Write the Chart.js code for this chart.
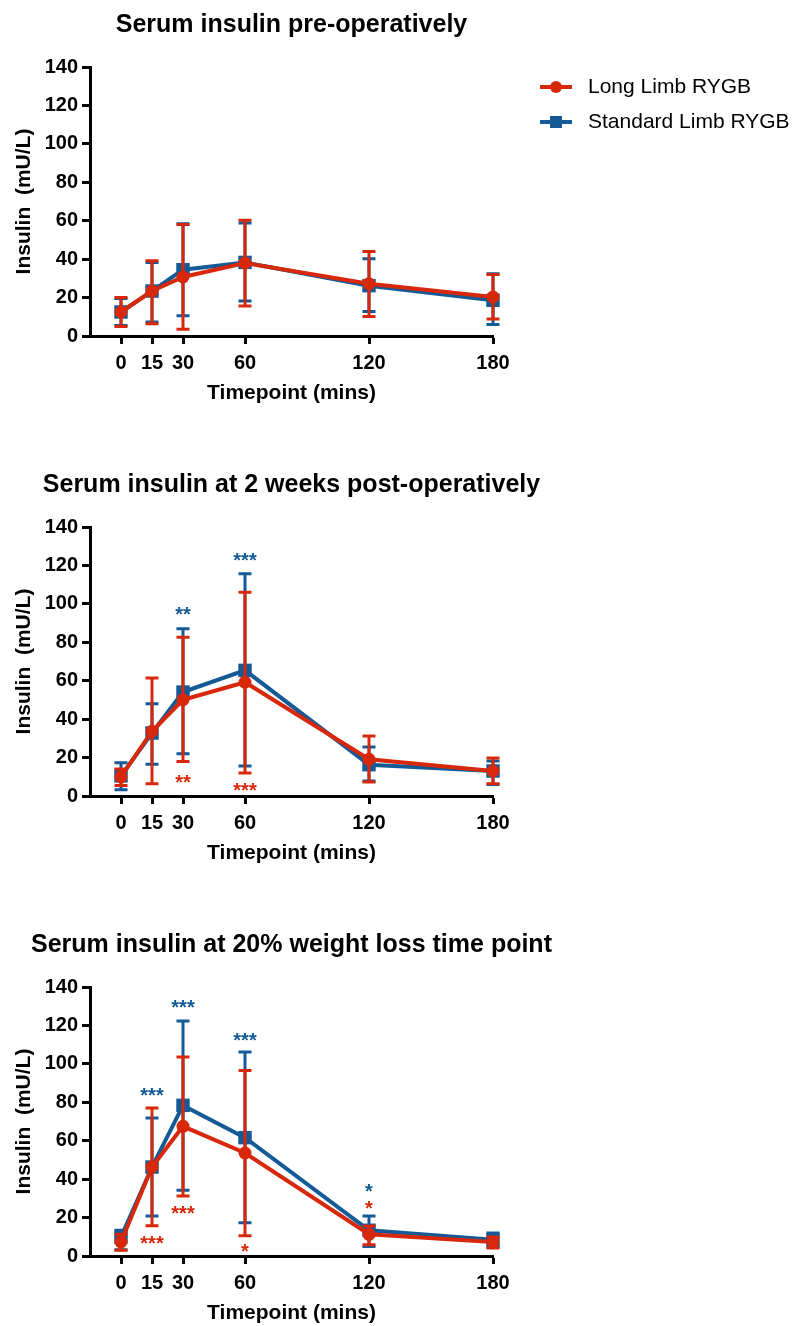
<!DOCTYPE html>
<html>
<head>
<meta charset="utf-8">
<script src="https://cdn.jsdelivr.net/npm/chart.js@4.4.1/dist/chart.umd.min.js"></script>
<style>
    html, body { margin: 0; padding: 0; background: #fff; overflow: hidden; }
    canvas { position: absolute; left: 0; }
</style>
</head>
<body>
<canvas id="preOp" width="796" height="406" style="top:0px"></canvas>
<canvas id="week2" width="796" height="406" style="top:460px"></canvas>
<canvas id="loss20" width="796" height="406" style="top:920px"></canvas>
<script>
// timepoints (mins) and tick labels
const timepoints = [0, 15, 30, 60, 120, 180];
const xTickValues = [0, 15, 30, 60, 120, 180];
const yTickValues = [0, 20, 40, 60, 80, 100, 120, 140];

const seriesNames = ["Long Limb RYGB", "Standard Limb RYGB"];
const red = "#d7280b";
const blue = "#135a97";
const fontFamily = "'Liberation Sans', Arial, Helvetica, sans-serif";

// pre-operatively
const preLongMean = [12.5, 23.4, 30.7, 38, 27.2, 20.3];
const preLongUpper = [20, 39.2, 58, 60.2, 44, 32];
const preLongLower = [5, 6.4, 3.5, 15.6, 10.2, 8.8];
const preStdMean = [12.5, 23.4, 34.5, 38.3, 26.2, 18.6];
const preStdUpper = [19.5, 38.2, 58.4, 58.8, 40.2, 32.4];
const preStdLower = [5.4, 7.3, 10.6, 18.2, 12.8, 6];

// 2 weeks post-operatively
const wk2LongMean = [10, 33.7, 50.1, 59.2, 19.1, 13];
const wk2LongUpper = [14, 61.4, 82.6, 106, 31.2, 19.8];
const wk2LongLower = [5.4, 6.4, 18, 12, 7.3, 6.4];
const wk2StdMean = [10.5, 32.8, 54.1, 65.4, 16.3, 13];
const wk2StdUpper = [17.3, 48, 87, 115.7, 25.5, 18.2];
const wk2StdLower = [3.3, 16.5, 22, 15.6, 7.8, 6];

// 20% weight loss time point
const wlLongMean = [7.3, 46.3, 67.5, 53.6, 11.3, 7.3];
const wlLongUpper = [11.3, 77, 103.6, 96.6, 15.6, 9.9];
const wlLongLower = [3, 15.8, 31.2, 10.6, 5.9, 4.2];
const wlStdMean = [9.9, 46.3, 78.4, 61.6, 13.4, 8.5];
const wlStdUpper = [13.4, 71.8, 122.3, 106.2, 20.8, 12];
const wlStdLower = [3.3, 20.8, 34.2, 17.3, 5, 4.7];

// significance stars: timepoint, insulin level where the mark sits, text, series (0 long, 1 standard)
const wk2Stars = [
    { x: 30, y: 97, text: "**", series: 1 },
    { x: 60, y: 125.3, text: "***", series: 1 },
    { x: 30, y: 9.4, text: "**", series: 0 },
    { x: 60, y: 5.4, text: "***", series: 0 },
];
const wlStars = [
    { x: 15, y: 86.2, text: "***", series: 1 },
    { x: 15, y: 9, text: "***", series: 0 },
    { x: 30, y: 131.9, text: "***", series: 1 },
    { x: 30, y: 24.8, text: "***", series: 0 },
    { x: 60, y: 114.8, text: "***", series: 1 },
    { x: 60, y: 4.7, text: "*", series: 0 },
    { x: 120, y: 36, text: "*", series: 1 },
    { x: 120, y: 27.2, text: "*", series: 0 },
];

const seriesColors = [red, blue];

const toPoints = (values) => values.map((v, i) => ({ x: timepoints[i], y: v }));

// draws the SD bars right after each dataset
const errorBars = {
    id: "errorBars",
    afterDatasetDraw(chart, args) {
        const ds = chart.data.datasets[args.index];
        const yScale = chart.scales.y;
        const ctx = chart.ctx;
        ctx.save();
        ctx.strokeStyle = ds.borderColor;
        ctx.lineWidth = 3;
        args.meta.data.forEach((pt, i) => {
            const top = yScale.getPixelForValue(ds.upper[i]);
            const bottom = yScale.getPixelForValue(ds.lower[i]);
            ctx.beginPath();
            ctx.moveTo(pt.x, top);
            ctx.lineTo(pt.x, bottom);
            ctx.moveTo(pt.x - 6.5, top);
            ctx.lineTo(pt.x + 6.5, top);
            ctx.moveTo(pt.x - 6.5, bottom);
            ctx.lineTo(pt.x + 6.5, bottom);
            ctx.stroke();
        });
        ctx.restore();
    },
};

const stars = {
    id: "stars",
    afterDatasetsDraw(chart, args, opts) {
        const ctx = chart.ctx;
        ctx.save();
        ctx.font = "bold 20px " + fontFamily;
        ctx.textAlign = "center";
        ctx.textBaseline = "alphabetic";
        (opts.marks || []).forEach((m) => {
            ctx.fillStyle = seriesColors[m.series];
            ctx.fillText(
                m.text,
                chart.scales.x.getPixelForValue(m.x),
                chart.scales.y.getPixelForValue(m.y) + 11.5
            );
        });
        ctx.restore();
    },
};

// title, axis titles and (first chart only) the legend
const labels = {
    id: "labels",
    afterDraw(chart, args, opts) {
        const ctx = chart.ctx;
        const area = chart.chartArea;
        const midX = (area.left + area.right) / 2;
        ctx.save();
        ctx.fillStyle = "#000";
        ctx.textAlign = "center";
        ctx.textBaseline = "middle";
        ctx.font = "bold 25px " + fontFamily;
        ctx.fillText(opts.title, midX, 25);
        ctx.font = "bold 21px " + fontFamily;
        ctx.fillText("Timepoint (mins)", midX, 393);
        ctx.save();
        ctx.translate(24, (area.top + area.bottom) / 2);
        ctx.rotate(-Math.PI / 2);
        ctx.fillText("Insulin  (mU/L)", 0, 0);
        ctx.restore();

        if (opts.legend) {
            ctx.font = "21px " + fontFamily;
            ctx.textAlign = "left";
            seriesNames.forEach((name, i) => {
                const y = 87 + i * 35;
                ctx.strokeStyle = seriesColors[i];
                ctx.fillStyle = seriesColors[i];
                ctx.lineWidth = 4;
                ctx.beginPath();
                ctx.moveTo(540, y);
                ctx.lineTo(572, y);
                ctx.stroke();
                if (i == 0) {
                    ctx.beginPath();
                    ctx.arc(556, y, 6, 0, Math.PI * 2);
                    ctx.fill();
                } else {
                    ctx.fillRect(550, y - 6, 12, 12);
                }
                ctx.fillStyle = "#000";
                ctx.fillText(name, 588, y);
            });
        }
        ctx.restore();
    },
};

const axisStyle = {
    grid: {
        drawOnChartArea: false,
        tickLength: 8,
        tickWidth: 3,
        tickColor: "#000",
    },
    border: { color: "#000", width: 3 },
};

const makeChart = (canvasId, title, long, std, marks, legend) => {
    const ctx = document.getElementById(canvasId).getContext("2d");
    return new Chart(ctx, {
        type: "line",
        data: {
            datasets: [
                {
                    label: seriesNames[0],
                    data: toPoints(long.mean),
                    upper: long.upper,
                    lower: long.lower,
                    borderColor: red,
                    backgroundColor: red,
                    borderWidth: 4,
                    pointStyle: "circle",
                    pointRadius: 6.5,
                    pointBorderWidth: 0,
                    clip: false,
                },
                {
                    label: seriesNames[1],
                    data: toPoints(std.mean),
                    upper: std.upper,
                    lower: std.lower,
                    borderColor: blue,
                    backgroundColor: blue,
                    borderWidth: 4,
                    pointStyle: "rect",
                    pointRadius: 9.5,
                    pointBorderWidth: 0,
                    clip: false,
                },
            ],
        },
        options: {
            responsive: false,
            animation: false,
            devicePixelRatio: 1,
            layout: { padding: { top: 67, right: 303, left: 0, bottom: 0 } },
            plugins: {
                legend: { display: false },
                tooltip: { enabled: false },
                labels: { title: title, legend: legend },
                stars: { marks: marks },
            },
            scales: {
                x: {
                    type: "linear",
                    min: -15,
                    max: 180,
                    afterBuildTicks: (scale) => {
                        scale.ticks = xTickValues.map((v) => ({ value: v }));
                    },
                    afterFit: (scale) => {
                        scale.height = 70;
                    },
                    ticks: {
                        autoSkip: false,
                        maxRotation: 0,
                        padding: 7,
                        color: "#000",
                        font: { family: fontFamily, size: 20, weight: "bold" },
                    },
                    ...axisStyle,
                },
                y: {
                    min: 0,
                    max: 140,
                    afterBuildTicks: (scale) => {
                        scale.ticks = yTickValues.map((v) => ({ value: v }));
                    },
                    afterFit: (scale) => {
                        scale.width = 90;
                    },
                    ticks: {
                        padding: 4,
                        color: "#000",
                        font: { family: fontFamily, size: 20, weight: "bold" },
                    },
                    ...axisStyle,
                },
            },
        },
        plugins: [errorBars, stars, labels],
    });
};

makeChart(
    "preOp",
    "Serum insulin pre-operatively",
    { mean: preLongMean, upper: preLongUpper, lower: preLongLower },
    { mean: preStdMean, upper: preStdUpper, lower: preStdLower },
    [],
    true
);
makeChart(
    "week2",
    "Serum insulin at 2 weeks post-operatively",
    { mean: wk2LongMean, upper: wk2LongUpper, lower: wk2LongLower },
    { mean: wk2StdMean, upper: wk2StdUpper, lower: wk2StdLower },
    wk2Stars,
    false
);
makeChart(
    "loss20",
    "Serum insulin at 20% weight loss time point",
    { mean: wlLongMean, upper: wlLongUpper, lower: wlLongLower },
    { mean: wlStdMean, upper: wlStdUpper, lower: wlStdLower },
    wlStars,
    false
);
</script>
</body>
</html>
